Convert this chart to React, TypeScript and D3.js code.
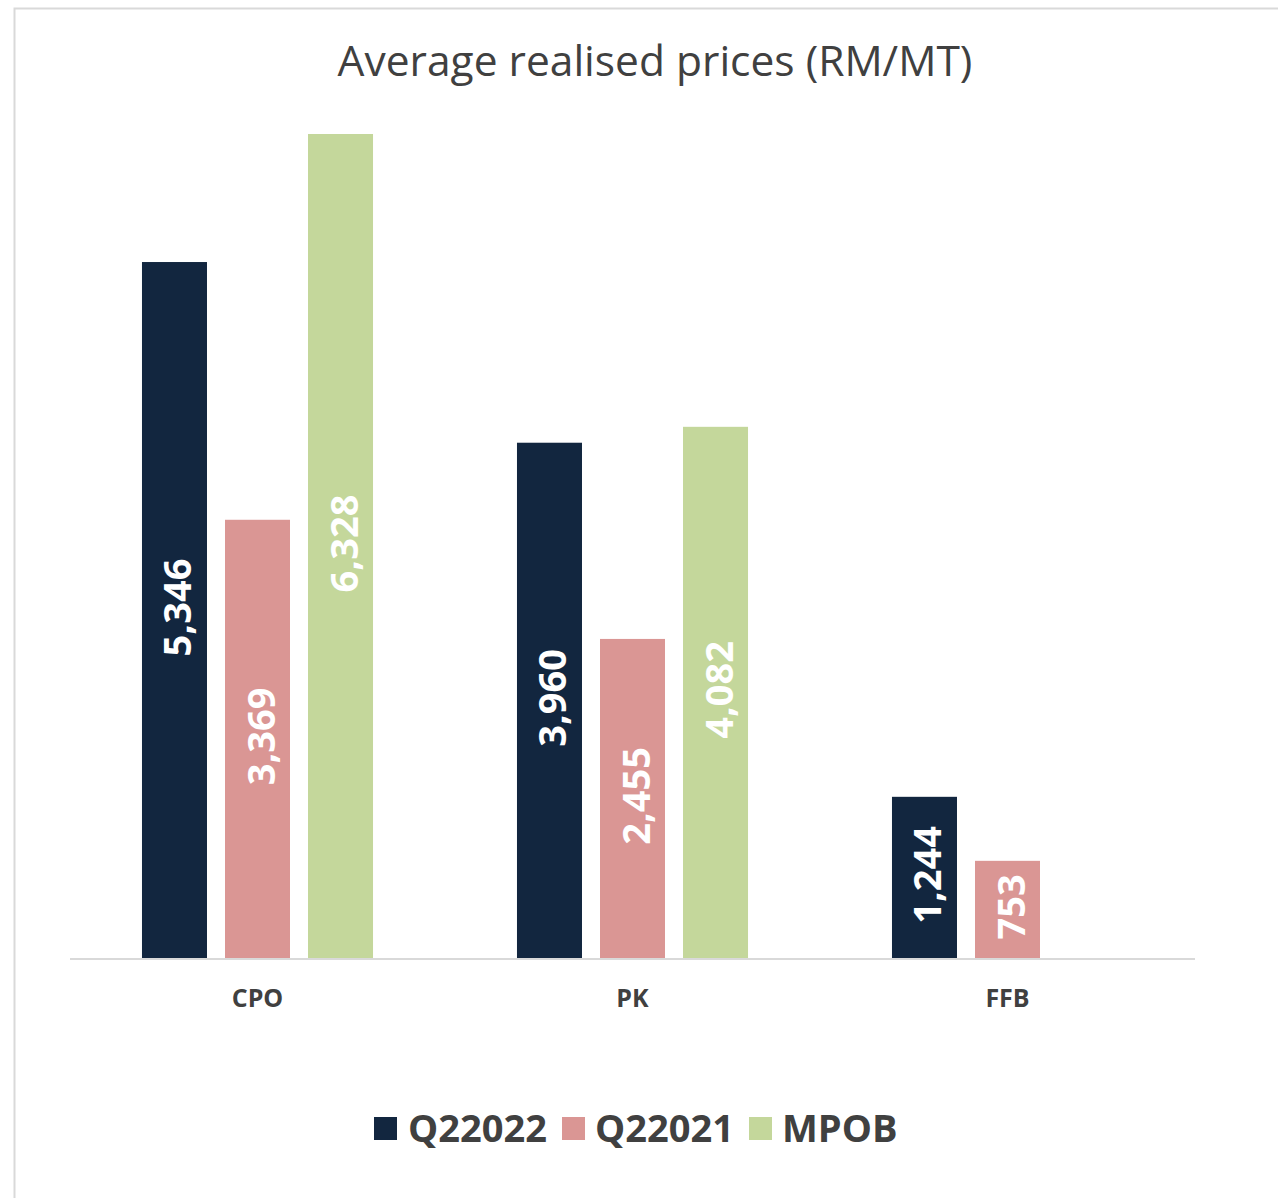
import React from "react";
import * as d3 from "d3";

const categories = ["CPO", "PK", "FFB"];
const seriesNames = ["Q22022", "Q22021", "MPOB"];
const q22022 = [5346, 3960, 1244];
const q22021 = [3369, 2455, 753];
const mpob: (number | null)[] = [6328, 4082, null];
const seriesColors = ["#12263F", "#DA9694", "#C4D79B"];
const title = "Average realised prices (RM/MT)";

const W = 1278;
const H = 1198;

export default function App() {
  const seriesValues = [q22022, q22021, mpob];
  const x0 = d3.scaleBand<string>().domain(categories).range([70, 1195]).paddingInner(0).paddingOuter(0);
  const x1 = d3
    .scaleBand<string>()
    .domain(seriesNames)
    .range([0, x0.bandwidth()])
    .paddingInner(0.2169)
    .paddingOuter(0.867);
  const y = d3.scaleLinear().domain([0, 6328]).range([959, 134]);
  const fmt = d3.format(",");

  const legendItems = [
    { name: "Q22022", sx: 374, tx: 408 },
    { name: "Q22021", sx: 562, tx: 595 },
    { name: "MPOB", sx: 749, tx: 782 },
  ];

  return (
    <svg
      width={W}
      height={H}
      style={{ position: "absolute", left: 0, top: 0, background: "#fff" }}
      fontFamily="'Open Sans', sans-serif"
    >
      <rect x={14.5} y={8.5} width={W} height={H} fill="#fff" stroke="#d9d9d9" strokeWidth={2} />
      <text x={655} y={76} textAnchor="middle" fontSize={42.5} fill="#404040">
        {title}
      </text>
      {categories.map((c, ci) => (
        <g key={c} transform={`translate(${x0(c)},0)`}>
          {seriesNames.map((s, si) => {
            const v = seriesValues[si][ci];
            if (v == null) return null;
            const bx = x1(s)!;
            const bw = x1.bandwidth();
            const top = y(v);
            const cx = bx + bw / 2;
            const cy = (top + y(0)) / 2;
            return (
              <g key={s}>
                <rect x={bx} y={top} width={bw} height={y(0) - top} fill={seriesColors[si]} />
                <text
                  transform={`translate(${cx + 2},${cy - 3}) rotate(-90)`}
                  textAnchor="middle"
                  dominantBaseline="central"
                  fontSize={38}
                  fontWeight="bold"
                  fill="#fff"
                >
                  {fmt(v)}
                </text>
              </g>
            );
          })}
          <text
            x={x0.bandwidth() / 2}
            y={1007}
            textAnchor="middle"
            fontSize={25}
            fontWeight="bold"
            fill="#404040"
          >
            {c}
          </text>
        </g>
      ))}
      <line x1={70} x2={1195} y1={959} y2={959} stroke="#d9d9d9" strokeWidth={2} />
      {legendItems.map((it, i) => (
        <g key={it.name}>
          <rect x={it.sx} y={1117} width={23} height={23} fill={seriesColors[i]} />
          <text x={it.tx} y={1142} fontSize={38} fontWeight="bold" fill="#404040">
            {it.name}
          </text>
        </g>
      ))}
    </svg>
  );
}
